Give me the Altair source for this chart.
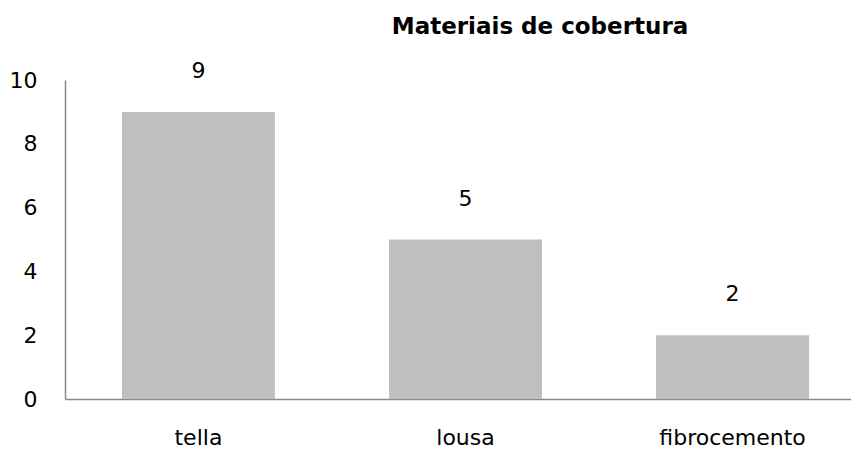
import altair as alt
import pandas as pd

categories = ["tella", "lousa", "fibrocemento"]
values = [9, 5, 2]
y_ticks = [0, 2, 4, 6, 8, 10]

df = pd.DataFrame({"material": categories, "count": values})

FONT = "DejaVu Sans"

x = alt.X(
    "material:N",
    sort=categories,
    title=None,
    scale=alt.Scale(paddingInner=0.427, paddingOuter=0.185, align=0.576),
    axis=alt.Axis(
        labelAngle=0, labelFontSize=22, labelFont=FONT, labelColor="#000000",
        labelPadding=28, ticks=False, domainColor="#898989", domainWidth=1.5,
        grid=False,
    ),
)
y = alt.Y(
    "count:Q",
    title=None,
    scale=alt.Scale(domain=[0, 10], nice=False),
    axis=alt.Axis(
        values=y_ticks, labelFontSize=22, labelFont=FONT, labelColor="#000000",
        labelPadding=28, ticks=False, domainColor="#898989", domainWidth=1.5,
        grid=False,
    ),
)

bars = alt.Chart(df).mark_bar(color="#bfbfbf").encode(x=x, y=y)
labels = alt.Chart(df).mark_text(
    fontSize=22, font=FONT, color="#000000", dy=-41, baseline="middle"
).encode(x=x, y=y, text="count:Q")

chart = (
    alt.layer(bars, labels, view=alt.ViewBackground(stroke="transparent", strokeWidth=0))
    .properties(
        width=786,
        height=319,
        title=alt.TitleParams(
            "Materiais de cobertura", font=FONT, fontSize=23, fontWeight="bold",
            color="#000000", anchor="middle", dx=82, offset=21,
        ),
        autosize=alt.AutoSizeParams(type="none"),
        padding={"left": 57, "top": 72, "right": 0, "bottom": 52},
    )
    .configure_view(strokeWidth=0, stroke="transparent")
    .configure_axis(grid=False)
    .configure(background="#ffffff")
)

chart.save("out.html", embed_options={"renderer": "svg", "actions": False})
